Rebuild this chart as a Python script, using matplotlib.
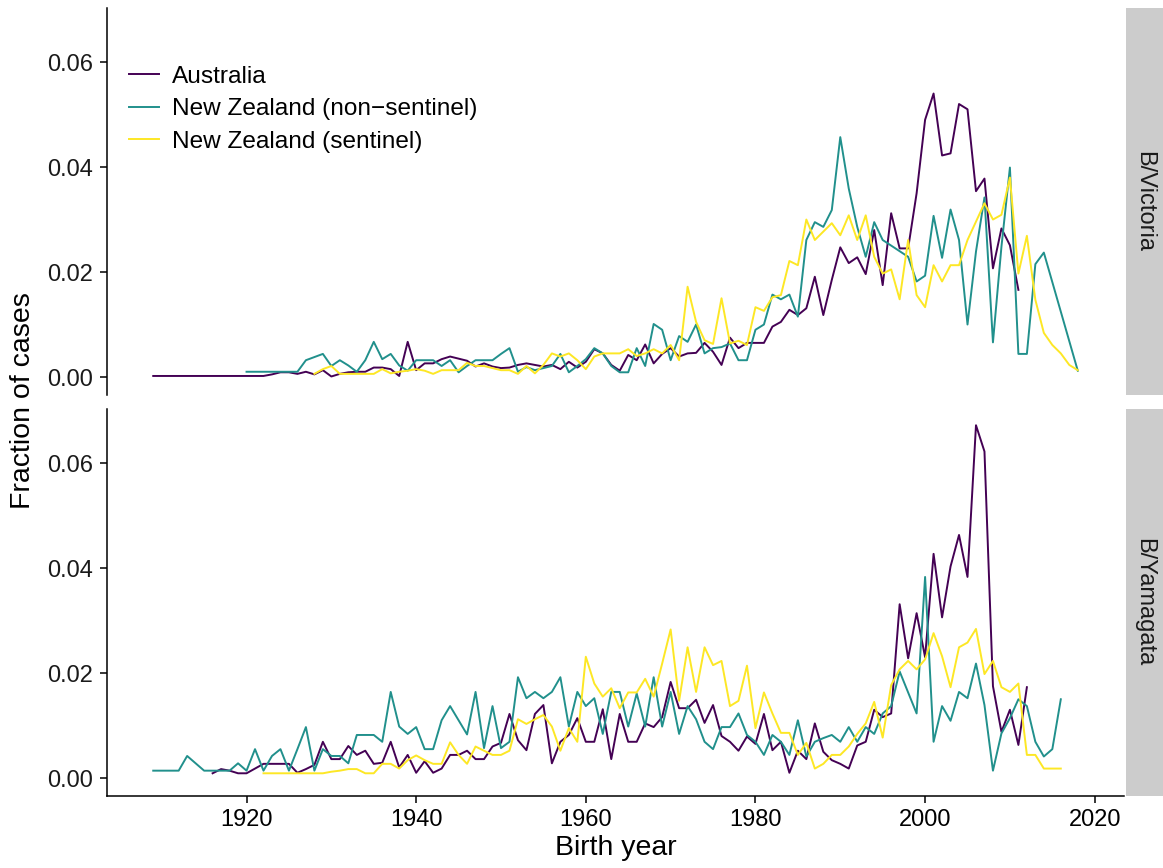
import numpy as np
import pandas as pd
import matplotlib
matplotlib.use("Agg")
import matplotlib.pyplot as plt

plt.rcParams['font.family'] = ['Liberation Sans', 'DejaVu Sans']

# kolory viridis dla trzech serii
kolory = {"Australia": "#440154",
          "New Zealand (non\u2212sentinel)": "#21908C",
          "New Zealand (sentinel)": "#FDE725"}
nazwy = list(kolory.keys())
panele = ["B/Victoria", "B/Yamagata"]

# --- B/Victoria ---
vic_aus_lata = np.arange(1909, 2012)
vic_aus = [0.0002] * 11 + [
    0.0002, 0.0002, 0.0002, 0.0005, 0.0009, 0.0009, 0.0006, 0.0010, 0.0005, 0.0013,
    0.0001, 0.0006, 0.0009, 0.0010, 0.0010, 0.0018, 0.0018, 0.0015, 0.0002, 0.0067,
    0.0013, 0.0026, 0.0026, 0.0034, 0.0039, 0.0035, 0.0031, 0.0020, 0.0026, 0.0020,
    0.0017, 0.0018, 0.0023, 0.0026, 0.0023, 0.0020, 0.0023, 0.0015, 0.0029, 0.0018,
    0.0029, 0.0053, 0.0045, 0.0023, 0.0012, 0.0042, 0.0032, 0.0062, 0.0026, 0.0044,
    0.0055, 0.0039, 0.0045, 0.0046, 0.0065, 0.0048, 0.0023, 0.0075, 0.0055, 0.0065,
    0.0065, 0.0065, 0.0096, 0.0105, 0.0128, 0.0118, 0.0131, 0.0191, 0.0118, 0.0185,
    0.0247, 0.0217, 0.0228, 0.0196, 0.0280, 0.0175, 0.0312, 0.0245, 0.0245, 0.0350,
    0.0490, 0.0540, 0.0422, 0.0426, 0.0520, 0.0510, 0.0354, 0.0378, 0.0207, 0.0283,
    0.0251, 0.0166]

vic_nzn_lata = np.arange(1920, 2019)
vic_nzn = [
    0.0010, 0.0010, 0.0010, 0.0010, 0.0010, 0.0010, 0.0010, 0.0032, 0.0038, 0.0044,
    0.0021, 0.0032, 0.0022, 0.0010, 0.0032, 0.0067, 0.0034, 0.0044, 0.0022, 0.0012,
    0.0032, 0.0032, 0.0032, 0.0021, 0.0032, 0.0009, 0.0021, 0.0032, 0.0032, 0.0032,
    0.0044, 0.0055, 0.0010, 0.0019, 0.0013, 0.0017, 0.0021, 0.0044, 0.0009, 0.0021,
    0.0034, 0.0055, 0.0045, 0.0021, 0.0009, 0.0009, 0.0055, 0.0021, 0.0101, 0.0090,
    0.0032, 0.0078, 0.0067, 0.0100, 0.0045, 0.0055, 0.0057, 0.0064, 0.0032, 0.0032,
    0.0090, 0.0100, 0.0157, 0.0148, 0.0157, 0.0115, 0.0261, 0.0295, 0.0286, 0.0318,
    0.0457, 0.0359, 0.0286, 0.0229, 0.0295, 0.0261, np.nan, np.nan, 0.0229, 0.0182,
    0.0193, 0.0307, 0.0227, 0.0319, 0.0261, 0.0100, 0.0239, 0.0342, 0.0066, 0.0248,
    0.0399, 0.0044, 0.0044, 0.0215, 0.0237, np.nan, np.nan, np.nan, 0.0012]

vic_nzs_lata = np.arange(1928, 2019)
vic_nzs = [
    0.0006, 0.0015,
    0.0021, 0.0006, 0.0006, 0.0006, 0.0006, 0.0006, 0.0015, 0.0007, 0.0010, 0.0012,
    0.0015, 0.0012, 0.0006, 0.0013, 0.0013, 0.0013, 0.0027, 0.0021, 0.0021, 0.0017,
    0.0013, 0.0013, 0.0006, 0.0021, 0.0007, 0.0023, 0.0045, 0.0039, 0.0045, 0.0032,
    0.0015, 0.0039, 0.0045, 0.0045, 0.0045, 0.0053, 0.0040, 0.0045, 0.0053, 0.0045,
    0.0061, 0.0032, 0.0172, 0.0105, 0.0070, 0.0063, 0.0150, 0.0064, 0.0069, 0.0061,
    0.0133, 0.0126, 0.0152, 0.0156, 0.0221, 0.0213, 0.0300, 0.0261, 0.0277, 0.0293,
    0.0270, 0.0308, 0.0261, 0.0308, 0.0229, 0.0197, 0.0205, 0.0148, 0.0261, 0.0156,
    0.0133, 0.0213, 0.0182, 0.0213, 0.0213, 0.0261, 0.0296, 0.0331, 0.0300, 0.0309,
    0.0380, 0.0197, 0.0269, 0.0147, 0.0084, 0.0061, 0.0045, 0.0023, 0.0013]

# --- B/Yamagata ---
yam_aus_lata = np.arange(1916, 2013)
yam_aus = [
    0.0009, 0.0017, 0.0014, 0.0009,
    0.0009, 0.0018, 0.0027, 0.0027, 0.0027, 0.0027, 0.0010, 0.0017, 0.0025, 0.0069,
    0.0036, 0.0036, 0.0061, 0.0044, 0.0052, 0.0027, 0.0029, 0.0069, 0.0020, 0.0044,
    0.0010, 0.0032, 0.0010, 0.0018, 0.0044, 0.0044, 0.0052, 0.0036, 0.0036, 0.0060,
    0.0067, 0.0122, 0.0072, 0.0053, 0.0122, 0.0139, 0.0028, 0.0069, 0.0082, 0.0114,
    0.0069, 0.0069, 0.0131, 0.0036, 0.0122, 0.0069, 0.0069, 0.0104, 0.0097, 0.0116,
    0.0183, 0.0133, 0.0133, 0.0149, 0.0105, 0.0139, 0.0080, 0.0069, 0.0052, 0.0079,
    0.0065, 0.0122, 0.0053, 0.0069, 0.0010, 0.0052, 0.0036, 0.0104, 0.0050, 0.0034,
    0.0027, 0.0018, 0.0062, 0.0069, 0.0130, 0.0116, 0.0123, 0.0331, 0.0228, 0.0314,
    0.0230, 0.0427, 0.0306, 0.0403, 0.0463, 0.0383, 0.0672, 0.0622, 0.0175, 0.0088,
    0.0130, 0.0063, 0.0173]

yam_nzn_lata = np.arange(1909, 2017)
yam_nzn = [
    0.0014, 0.0014, 0.0014, 0.0014, 0.0042, 0.0028, 0.0014, 0.0014, 0.0014, 0.0014, 0.0028,
    0.0014, 0.0055, 0.0014, 0.0042, 0.0055, 0.0014, 0.0055, 0.0097, 0.0014, 0.0055,
    0.0042, 0.0042, 0.0028, 0.0082, 0.0082, 0.0082, 0.0069, 0.0164, 0.0098, 0.0084,
    0.0097, 0.0055, 0.0055, 0.0110, 0.0137, 0.0110, 0.0083, 0.0164, 0.0057, 0.0137,
    0.0057, 0.0069, 0.0192, 0.0152, 0.0164, 0.0152, 0.0164, 0.0192, 0.0098, 0.0164,
    0.0137, 0.0152, 0.0084, 0.0164, 0.0164, 0.0098, 0.0161, 0.0098, 0.0192, 0.0098,
    0.0164, 0.0084, 0.0137, 0.0112, 0.0069, 0.0055, 0.0097, 0.0097, 0.0123, 0.0082,
    0.0069, 0.0044, 0.0082, 0.0069, 0.0044, 0.0110, 0.0041, 0.0069, 0.0076, 0.0082,
    0.0069, 0.0097, 0.0069, 0.0097, 0.0084, 0.0123, 0.0137, 0.0203, 0.0163, 0.0123,
    0.0383, 0.0069, 0.0137, 0.0109, 0.0164, 0.0152, 0.0218, 0.0139, 0.0014, 0.0085,
    0.0114, 0.0150, 0.0137, 0.0069, 0.0041, 0.0055, 0.0150]

yam_nzs_lata = np.arange(1922, 2017)
yam_nzs = [0.0009] * 8 + [
    0.0012, 0.0014, 0.0017, 0.0017, 0.0009, 0.0009, 0.0027, 0.0027, 0.0018, 0.0034,
    0.0043, 0.0034, 0.0027, 0.0027, 0.0068, 0.0044, 0.0027, 0.0060, 0.0052, 0.0044,
    0.0044, 0.0052, 0.0112, 0.0103, 0.0112, 0.0120, 0.0098, 0.0052, 0.0095, 0.0069,
    0.0231, 0.0180, 0.0155, 0.0171, 0.0133, 0.0163, 0.0163, 0.0189, 0.0155, 0.0218,
    0.0283, 0.0147, 0.0249, 0.0164, 0.0249, 0.0215, 0.0223, 0.0137, 0.0147, 0.0214,
    0.0095, 0.0163, 0.0123, 0.0086, 0.0086, 0.0044, 0.0067, 0.0018, 0.0027, 0.0044,
    0.0044, 0.0060, 0.0084, 0.0104, 0.0145, 0.0077, 0.0177, 0.0207, 0.0223, 0.0207,
    0.0226, 0.0276, 0.0232, 0.0173, 0.0249, 0.0258, 0.0284, 0.0198, 0.0223, 0.0173,
    0.0164, 0.0180, 0.0044, 0.0044, 0.0018, 0.0018, 0.0018]

serie = {
    "B/Victoria": [(vic_aus_lata, vic_aus), (vic_nzn_lata, vic_nzn), (vic_nzs_lata, vic_nzs)],
    "B/Yamagata": [(yam_aus_lata, yam_aus), (yam_nzn_lata, yam_nzn), (yam_nzs_lata, yam_nzs)],
}

W, H = 1163, 868
fig = plt.figure(figsize=(W / 100, H / 100), dpi=100)

x0, x1 = 107, 1124
panel_px = [(7.7, 394.6), (408.7, 795.6)]
fs = 17

axes = []
for i, panel in enumerate(panele):
    top, bot = panel_px[i]
    ax = fig.add_axes([x0 / W, 1 - bot / H, (x1 - x0) / W, (bot - top) / H])
    for nazwa, (lata, wart) in zip(nazwy, serie[panel]):
        s = pd.Series(wart, index=lata).dropna()
        ax.plot(s.index, s.values, color=kolory[nazwa], lw=1.4, label=nazwa)
    ax.set_xlim(1903.55, 2023.45)
    ax.set_ylim(-0.00335, 0.07035)
    ax.set_yticks([0, 0.02, 0.04, 0.06])
    ax.set_yticklabels(["0.00", "0.02", "0.04", "0.06"])
    ax.set_xticks([1920, 1940, 1960, 1980, 2000, 2020])
    for sp in ["top", "right"]:
        ax.spines[sp].set_visible(False)
    ax.spines["left"].set_linewidth(1.1)
    ax.spines["bottom"].set_linewidth(1.1)
    ax.tick_params(labelsize=fs, length=5, width=1.1, pad=5, colors="black")
    ax.tick_params(axis="y", labelcolor="#1a1a1a")
    if i == 0:
        ax.spines["bottom"].set_visible(False)
        ax.tick_params(axis="x", bottom=False, labelbottom=False)

    # pasek z nazwa panelu
    sa = fig.add_axes([1126 / W, 1 - bot / H, (W - 1126) / W, (bot - top) / H])
    sa.set_facecolor("#cccccc")
    sa.set_xticks([])
    sa.set_yticks([])
    for sp in sa.spines.values():
        sp.set_visible(False)
    sa.text(0.5, 0.5, panel, rotation=-90, ha="center", va="center",
            fontsize=fs, color="#1a1a1a", transform=sa.transAxes)
    axes.append(ax)

axes[0].legend(loc="upper left", bbox_to_anchor=(0.022, 0.85), frameon=False,
               fontsize=17.6, handlelength=1.23, handletextpad=0.53,
               labelspacing=0.42, borderaxespad=0, borderpad=0)

fig.text(615.5 / W, 1 - 848 / H, "Birth year", ha="center", va="center", fontsize=20.5)
fig.text(23 / W, 1 - 401 / H, "Fraction of cases", ha="center", va="center",
         rotation=90, fontsize=20.5)

fig.savefig("out.png", dpi=100)
